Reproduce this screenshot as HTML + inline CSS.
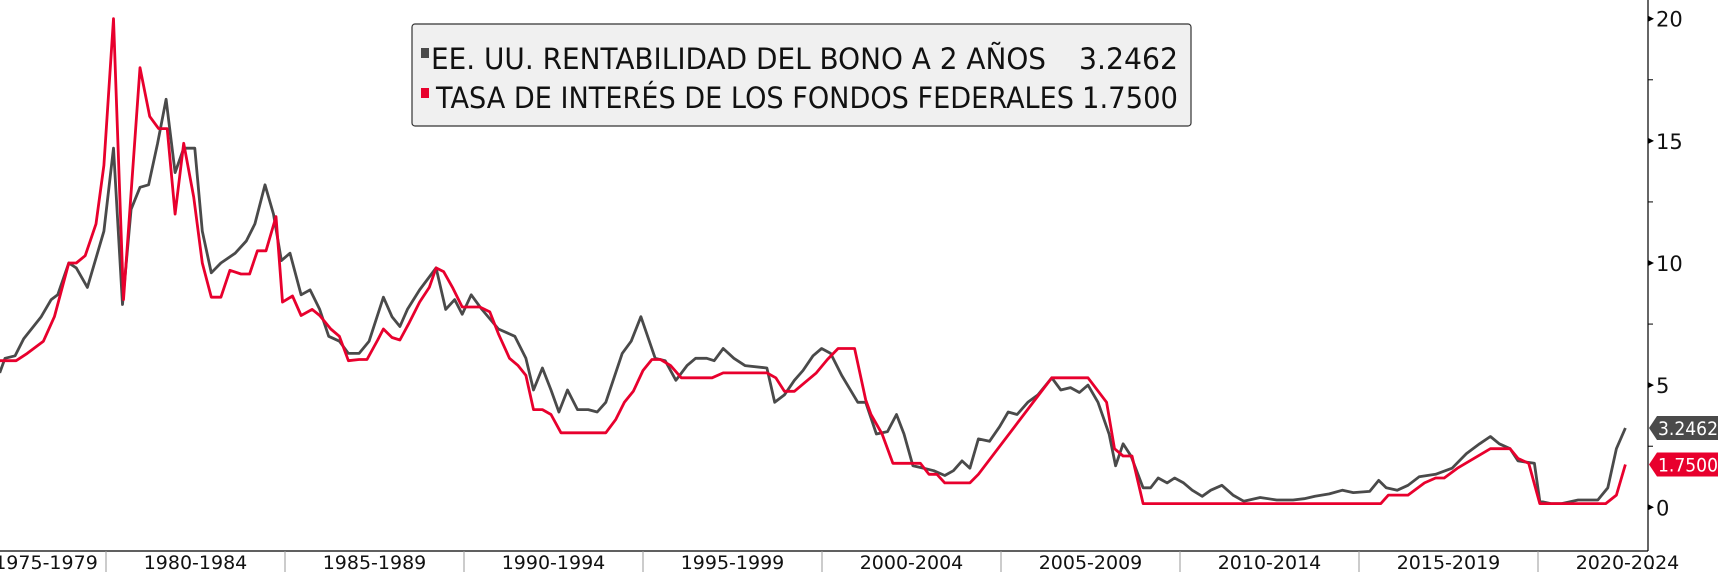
<!DOCTYPE html>
<html><head><meta charset="utf-8"><style>
html,body{margin:0;padding:0;background:#fff;}
svg{display:block;font-family:"DejaVu Sans","Liberation Sans",sans-serif;}
</style></head><body>
<svg id="chart" width="1718" height="572" viewBox="0 0 1718 572" xmlns="http://www.w3.org/2000/svg">
<g id="plot"></g>
<g id="axes"></g>
<g>
  <rect x="412" y="24" width="779" height="102" rx="3" fill="#f0f0f0" stroke="#333" stroke-width="1.2"/>
  <rect x="421" y="48" width="8" height="10" fill="#4a4a4a"/>
  <text x="431" y="69" font-size="29" fill="#111" textLength="615" lengthAdjust="spacingAndGlyphs">EE. UU. RENTABILIDAD DEL BONO A 2 AÑOS</text>
  <text x="1079" y="69" font-size="29" fill="#111" textLength="99" lengthAdjust="spacingAndGlyphs">3.2462</text>
  <rect x="421" y="88" width="8" height="10" fill="#e8002d"/>
  <text x="436" y="108" font-size="29" fill="#111" textLength="638" lengthAdjust="spacingAndGlyphs">TASA DE INTERÉS DE LOS FONDOS FEDERALES</text>
  <text x="1082" y="108" font-size="29" fill="#111" textLength="96" lengthAdjust="spacingAndGlyphs">1.7500</text>
</g>
</svg>
<script>
const yTicks = [0, 5, 10, 15, 20];
const categories = ["1975-1979","1980-1984","1985-1989","1990-1994","1995-1999","2000-2004","2005-2009","2010-2014","2015-2019","2020-2024"];
const catStarts = [1975,1980,1985,1990,1995,2000,2005,2010,2015,2020];
const grayYears = [1977.03,1977.18,1977.46,1977.70,1978.19,1978.47,1978.65,1978.96,1979.17,1979.48,1979.94,1980.21,1980.46,1980.70,1980.95,1981.19,1981.44,1981.68,1981.93,1982.17,1982.48,1982.69,1982.94,1983.21,1983.61,1983.92,1984.16,1984.44,1984.68,1984.90,1985.14,1985.45,1985.70,1985.97,1986.22,1986.52,1986.77,1987.07,1987.35,1987.75,1987.99,1988.21,1988.42,1988.76,1989.22,1989.49,1989.74,1989.95,1990.20,1990.50,1990.96,1991.42,1991.73,1991.94,1992.19,1992.43,1992.65,1992.89,1993.17,1993.47,1993.72,1993.96,1994.42,1994.67,1994.94,1995.34,1995.62,1995.92,1996.23,1996.47,1996.78,1996.99,1997.24,1997.54,1997.85,1998.46,1998.68,1998.95,1999.23,1999.47,1999.75,1999.99,2000.24,2000.55,2001.00,2001.22,2001.52,2001.83,2002.08,2002.29,2002.54,2002.84,2003.12,2003.43,2003.67,2003.91,2004.13,2004.37,2004.68,2004.96,2005.20,2005.45,2005.75,2006.03,2006.42,2006.67,2006.94,2007.19,2007.43,2007.71,2008.02,2008.20,2008.41,2008.63,2008.97,2009.18,2009.39,2009.64,2009.85,2010.10,2010.34,2010.62,2010.86,2011.17,2011.48,2011.78,2012.24,2012.70,2013.16,2013.47,2013.77,2014.17,2014.54,2014.84,2015.30,2015.55,2015.76,2016.07,2016.37,2016.68,2017.14,2017.60,2018.00,2018.37,2018.67,2018.92,2019.22,2019.44,2019.90,2020.05,2020.36,2020.66,2021.12,2021.67,2021.95,2022.19,2022.44];
const grayValues = [5.5,6.1,6.2,6.9,7.8,8.5,8.7,10.0,9.8,9.0,11.3,14.7,8.3,12.2,13.1,13.2,14.9,16.7,13.7,14.7,14.7,11.3,9.6,10.0,10.4,10.9,11.6,13.2,12.0,10.1,10.4,8.7,8.9,8.1,7.0,6.8,6.3,6.3,6.8,8.6,7.8,7.4,8.1,8.9,9.8,8.1,8.5,7.9,8.7,8.1,7.3,7.0,6.1,4.8,5.7,4.8,3.9,4.8,4.0,4.0,3.9,4.3,6.3,6.8,7.8,6.1,6.0,5.2,5.8,6.1,6.1,6.0,6.5,6.1,5.8,5.7,4.3,4.6,5.2,5.6,6.2,6.5,6.3,5.4,4.3,4.3,3.0,3.1,3.8,3.0,1.7,1.6,1.5,1.3,1.5,1.9,1.6,2.8,2.7,3.3,3.9,3.8,4.3,4.6,5.3,4.8,4.9,4.7,5.0,4.3,3.0,1.7,2.6,2.1,0.8,0.8,1.2,1.0,1.2,1.0,0.7,0.45,0.7,0.9,0.5,0.25,0.4,0.3,0.3,0.35,0.45,0.55,0.7,0.6,0.65,1.1,0.8,0.7,0.9,1.25,1.35,1.6,2.2,2.6,2.9,2.6,2.4,1.9,1.8,0.25,0.15,0.15,0.3,0.3,0.8,2.4,3.2462];
const redYears = [1977.03,1977.49,1977.80,1978.25,1978.56,1978.96,1979.17,1979.42,1979.72,1979.94,1980.21,1980.49,1980.95,1981.22,1981.47,1981.71,1981.93,1982.17,1982.45,1982.69,1982.94,1983.21,1983.46,1983.77,1984.01,1984.23,1984.47,1984.75,1984.93,1985.21,1985.45,1985.76,1985.97,1986.28,1986.52,1986.77,1987.07,1987.29,1987.59,1987.75,1987.99,1988.21,1988.45,1988.76,1989.03,1989.22,1989.43,1989.68,1989.95,1990.20,1990.44,1990.72,1990.96,1991.27,1991.51,1991.73,1991.94,1992.19,1992.43,1992.71,1993.96,1994.24,1994.48,1994.73,1995.00,1995.25,1995.49,1995.77,1996.07,1996.93,1997.24,1998.46,1998.71,1998.95,1999.23,1999.84,2000.15,2000.45,2000.91,2001.22,2001.37,2001.68,2001.98,2002.75,2002.99,2003.21,2003.43,2004.13,2004.37,2006.42,2007.43,2007.95,2008.17,2008.41,2008.66,2008.97,2015.61,2015.82,2016.37,2016.83,2017.14,2017.38,2017.75,2018.21,2018.67,2019.22,2019.44,2019.74,2020.05,2021.89,2022.19,2022.44];
const redValues = [6.0,6.0,6.3,6.8,7.8,10.0,10.0,10.3,11.6,14.0,20.0,8.5,18.0,16.0,15.5,15.5,12.0,14.9,12.7,10.0,8.6,8.6,9.7,9.55,9.55,10.5,10.5,11.9,8.4,8.65,7.85,8.1,7.85,7.3,7.0,6.0,6.05,6.05,6.85,7.3,6.95,6.85,7.5,8.4,9.0,9.8,9.65,9.0,8.2,8.2,8.2,8.0,7.1,6.1,5.8,5.4,4.0,4.0,3.8,3.05,3.05,3.6,4.3,4.75,5.6,6.05,6.05,5.8,5.3,5.3,5.5,5.5,5.3,4.75,4.75,5.5,6.05,6.5,6.5,4.4,3.8,3.0,1.8,1.8,1.35,1.35,1.0,1.0,1.35,5.3,5.3,4.3,2.4,2.1,2.1,0.15,0.15,0.5,0.5,1.0,1.2,1.2,1.6,2.0,2.4,2.4,2.0,1.8,0.15,0.15,0.5,1.75];
const lastLabels = ["3.2462","1.7500"];

const NS="http://www.w3.org/2000/svg";
const X0=106, PXY=35.8, AXX=1648, AXB=551;
function xs(yr){return X0+(yr-1980)*PXY;}
function ys(v){return 507.3-v*24.43;}
function mk(tag,attrs,parent){const e=document.createElementNS(NS,tag);for(const k in attrs)e.setAttribute(k,attrs[k]);parent.appendChild(e);return e;}
const axes=document.getElementById('axes'), plot=document.getElementById('plot');

let el=mk('line',{x1:AXX,y1:0,x2:AXX,y2:AXB,stroke:'#000','stroke-width':1.2},axes);


el=mk('line',{x1:0,y1:AXB,x2:AXX,y2:AXB,stroke:'#000','stroke-width':1.2},axes);


for(let v=-2.5; v<=20; v+=2.5){
  const t=mk('line',{x1:AXX,y1:ys(v),x2:AXX+5,y2:ys(v),stroke:'#000','stroke-width':1},axes);
  
  
}
yTicks.forEach(v=>{
  const p=mk('path',{d:`M${AXX} ${ys(v)-3}L${AXX+6} ${ys(v)}L${AXX} ${ys(v)+3}Z`,fill:'#000'},axes);
  
  
  const t=mk('text',{x:AXX+8,y:ys(v)+8,'font-size':21,fill:'#111'},axes);
  t.textContent=String(v);
  
  
});
catStarts.forEach((yr,i)=>{
  const bx=xs(yr);
  if(i>0){const l=mk('line',{x1:bx,y1:AXB,x2:bx,y2:572,stroke:'#999','stroke-width':1},axes);
    
    }
  const cx=Math.max(xs(yr+2.5),46);
  const t=mk('text',{x:cx,y:569,'font-size':19,fill:'#111','text-anchor':'middle'},axes);
  t.textContent=categories[i];
  
  
});
function series(years,vals,color,name){
  const d=years.map((y,i)=>(i?'L':'M')+xs(y).toFixed(1)+' '+ys(vals[i]).toFixed(1)).join('');
  const p=mk('path',{d:d,fill:'none',stroke:color,'stroke-width':2.8,'stroke-linejoin':'round'},plot);
  
  
}
series(grayYears,grayValues,'#4a4a4a','line-2y-yield');
series(redYears,redValues,'#e8002d','line-fed-funds');
function badge(v,color,label,name){
  const y=ys(v);
  const g=mk('g',{},axes);
  
  
  mk('path',{d:`M${AXX+1} ${y}L${AXX+9} ${y-12}L1718 ${y-12}L1718 ${y+12}L${AXX+9} ${y+12}Z`,fill:color},g);
  const t=mk('text',{x:AXX+10,y:y+7,'font-size':19,fill:'#fff',textLength:60,lengthAdjust:'spacingAndGlyphs'},g);
  t.textContent=label;
}
badge(grayValues[grayValues.length-1],'#4a4a4a',lastLabels[0],'last-value-2y');
badge(redValues[redValues.length-1],'#e8002d',lastLabels[1],'last-value-fed');
</script>
</body></html>
